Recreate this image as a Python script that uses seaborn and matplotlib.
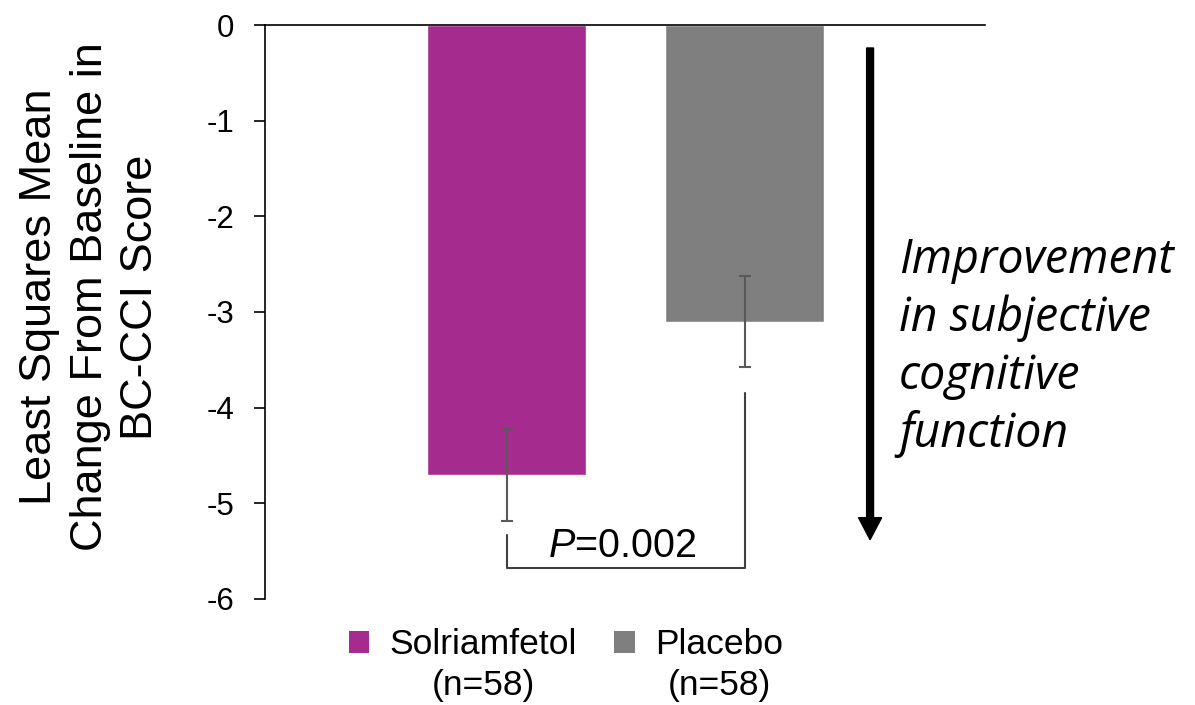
import pandas as pd
import matplotlib.pyplot as plt
import seaborn as sns
from matplotlib.patches import Patch

# Data
groups = ["Solriamfetol", "Placebo"]
ls_mean = [-4.70, -3.10]
se = [0.48, 0.48]
n_pts = [58, 58]
colors = ["#A62B8E", "#7F7F7F"]
p_text = "$P$=0.002"
y_ticks = [0, -1, -2, -3, -4, -5, -6]

df = pd.DataFrame({"group": groups, "value": ls_mean})

sns.set_style("white")
plt.rcParams["font.family"] = ["Liberation Sans", "DejaVu Sans"]
plt.rcParams["axes.unicode_minus"] = False
plt.rcParams["mathtext.fontset"] = "custom"
plt.rcParams["mathtext.it"] = "Liberation Sans:italic"
plt.rcParams["mathtext.rm"] = "Liberation Sans"
plt.rcParams["text.color"] = "black"
plt.rcParams["axes.labelcolor"] = "black"
plt.rcParams["ytick.color"] = "black"

fig = plt.figure(figsize=(11.95, 7.05), dpi=100)
ax = fig.add_axes([0.2218, 0.1504, 0.6025, 0.8141])

sns.barplot(data=df, x="group", y="value", hue="group", palette=colors,
            width=0.668, errorbar=None, legend=False, saturation=1, ax=ax)
ax.errorbar(x=[0, 1], y=ls_mean, yerr=se, fmt="none", ecolor="#595959",
            elinewidth=1.5, capsize=4.3, capthick=1.5)

ax.set_xlim(-1.015, 2.01)
ax.set_ylim(-6, 0)
ax.set_yticks(y_ticks)
ax.set_yticklabels([str(t) for t in y_ticks], fontsize=22.5)
ax.set_xticks([])
ax.set_xlabel("")
ax.tick_params(axis="y", direction="out", length=8, width=1.2, pad=14, color="black", left=True)
for side in ["right", "bottom"]:
    ax.spines[side].set_visible(False)
for side in ["left", "top"]:
    ax.spines[side].set_color("black")
    ax.spines[side].set_linewidth(1.2)

ax.set_ylabel("Least Squares Mean\nChange From Baseline in\nBC-CCI Score",
              fontsize=32.5, va="center", ha="center", multialignment="center",
              linespacing=1.3)
ax.yaxis.set_label_coords(-0.243, 0.526)

# significance bracket
ax.plot([0, 0, 1, 1], [-5.33, -5.68, -5.68, -3.85], color="#404040", lw=1.5,
        clip_on=False)
fig.text(622.5 / 1195, 1 - 557 / 705, p_text, fontsize=28.5, ha="center", va="baseline")

# improvement arrow
ax.arrow(1.527, -0.24, 0, -5.14, width=0.029, head_width=0.097, head_length=0.23,
         length_includes_head=True, color="black", clip_on=False)
fig.text(899 / 1195, 1 - 236 / 705, "Improvement\nin subjective\ncognitive\nfunction",
         family="Open Sans", style="italic", fontsize=33.5, ha="left", va="top",
         linespacing=1.29)

# legend
handles = [Patch(facecolor=c, edgecolor="none") for c in colors]
leg = ax.legend(handles, groups, loc="upper left", bbox_to_anchor=(0.0917, -0.02),
                ncol=2, frameon=False, fontsize=25.5, handlelength=0.58,
                handleheight=0.58, handletextpad=0.58, columnspacing=1.05,
                borderpad=0)
fig.canvas.draw()
renderer = fig.canvas.get_renderer()
for txt, n in zip(leg.get_texts(), n_pts):
    bb = txt.get_window_extent(renderer)
    fig.text((bb.x0 + bb.x1) / 2 / 1195, (bb.y0 - 8) / 705, f"(n={n})",
             fontsize=25.5, ha="center", va="top")

fig.savefig("out.png", dpi=100)
